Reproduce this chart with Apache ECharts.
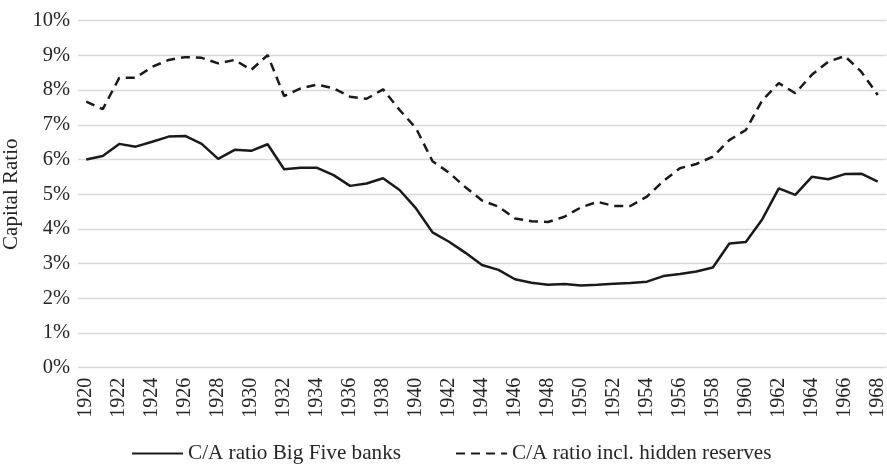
<!DOCTYPE html>
<html>
<head>
<meta charset="utf-8">
<script src="https://cdn.jsdelivr.net/npm/echarts@6/dist/echarts.min.js"></script>
<style>html,body{margin:0;padding:0;background:#fff}#c{width:887px;height:464px}</style>
</head>
<body>
<div id="c"></div>
<script>
const years = [];
for (let y = 1920; y <= 1968; y++) years.push(String(y));
const bigFive = [6.00,6.10,6.45,6.37,6.51,6.66,6.68,6.45,6.02,6.28,6.25,6.44,5.72,5.76,5.76,5.55,5.24,5.31,5.46,5.12,4.59,3.90,3.63,3.31,2.96,2.82,2.55,2.45,2.39,2.41,2.37,2.39,2.42,2.44,2.48,2.64,2.70,2.77,2.89,3.58,3.62,4.28,5.17,4.98,5.50,5.43,5.58,5.59,5.36];
const hidden = [7.67,7.45,8.35,8.36,8.67,8.87,8.95,8.93,8.77,8.87,8.58,9.01,7.83,8.05,8.16,8.05,7.81,7.75,8.02,7.43,6.90,5.95,5.62,5.20,4.82,4.64,4.30,4.22,4.20,4.35,4.62,4.78,4.66,4.66,4.93,5.38,5.75,5.87,6.08,6.56,6.85,7.71,8.20,7.91,8.44,8.82,8.98,8.53,7.86];
const seriesNames = ['C/A ratio Big Five banks', 'C/A ratio incl. hidden reserves'];
const yTicks = [0,1,2,3,4,5,6,7,8,9,10];

const font = 'Liberation Serif';
const txt = '#262626';
const chart = echarts.init(document.getElementById('c'));
chart.setOption({
  animation: false,
  textStyle: { fontFamily: font, color: txt },
  grid: { left: 78, right: 1, top: 20.7, bottom: 96.3, containLabel: false, outerBoundsMode: 'none' },
  legend: {
    top: 438,
    left: 126,
    itemWidth: 51,
    itemHeight: 14,
    itemGap: 54,
    textStyle: { fontFamily: font, fontSize: 21.2, color: txt },
    data: [
      { name: seriesNames[0], itemStyle: { opacity: 0 } },
      { name: seriesNames[1], itemStyle: { opacity: 0 } }
    ]
  },
  xAxis: {
    type: 'category',
    data: years,
    boundaryGap: true,
    axisLine: { show: false },
    axisTick: { show: false },
    axisLabel: { interval: 1, rotate: 90, fontFamily: font, fontSize: 20, color: txt, margin: 10 }
  },
  yAxis: {
    type: 'value',
    min: yTicks[0],
    max: yTicks[yTicks.length - 1],
    interval: 1,
    name: 'Capital Ratio',
    nameLocation: 'middle',
    nameRotate: 90,
    nameGap: 52,
    nameTextStyle: { fontFamily: font, fontSize: 21, color: txt },
    axisLine: { show: false },
    axisTick: { show: false },
    axisLabel: { formatter: v => v + '%', fontFamily: font, fontSize: 20.5, color: txt, margin: 8 },
    splitLine: { lineStyle: { color: '#d9d9d9', width: 1.3 } }
  },
  series: [
    {
      name: seriesNames[0], type: 'line', data: bigFive, showSymbol: false, symbol: 'none',
      lineStyle: { color: '#1a1a1a', width: 2.5, type: 'solid' }, itemStyle: { color: '#1a1a1a' }
    },
    {
      name: seriesNames[1], type: 'line', data: hidden, showSymbol: false, symbol: 'none',
      lineStyle: { color: '#1a1a1a', width: 2.5, type: [9, 6] }, itemStyle: { color: '#1a1a1a' }
    }
  ]
});
</script>
</body>
</html>
